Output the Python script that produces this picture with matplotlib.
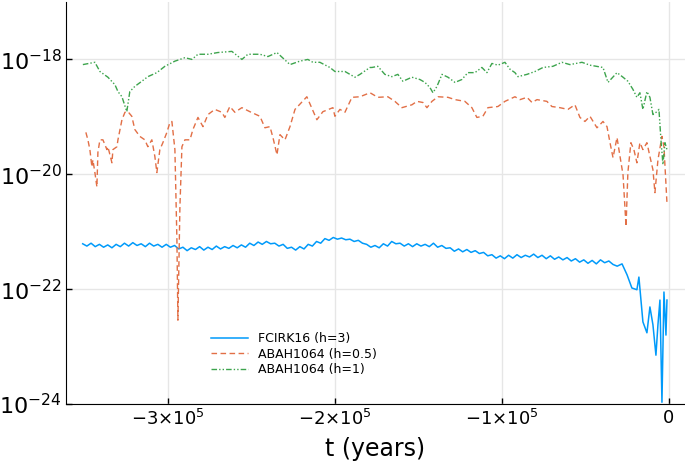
import numpy as np
import matplotlib
matplotlib.use("Agg")
import matplotlib.pyplot as plt

# ==============
# data (log10 of the plotted quantity, time in kyr)
# ==============
# FCIRK16 (h=3) - evenly sampled body, then the noisy tail near t=0
blue_t_body = np.arange(-351, -30, 2.5)
blue_log_body = [
    -21.21, -21.25, -21.20, -21.26, -21.22, -21.27, -21.23, -21.28, -21.22, -21.26,
    -21.20, -21.25, -21.19, -21.24, -21.21, -21.26, -21.20, -21.25, -21.22, -21.27,
    -21.22, -21.27, -21.24, -21.30, -21.27, -21.33, -21.28, -21.31, -21.26, -21.32,
    -21.27, -21.31, -21.25, -21.30, -21.26, -21.29, -21.24, -21.28, -21.23, -21.27,
    -21.20, -21.24, -21.18, -21.22, -21.17, -21.21, -21.20, -21.25, -21.22, -21.29,
    -21.27, -21.32, -21.26, -21.30, -21.22, -21.25, -21.17, -21.20, -21.12, -21.15,
    -21.10, -21.13, -21.11, -21.14, -21.13, -21.17, -21.15, -21.20, -21.22, -21.27,
    -21.24, -21.28, -21.21, -21.25, -21.17, -21.21, -21.20, -21.25, -21.21, -21.26,
    -21.21, -21.25, -21.22, -21.26, -21.20, -21.27, -21.24, -21.29, -21.28, -21.34,
    -21.30, -21.35, -21.31, -21.36, -21.33, -21.38, -21.36, -21.42, -21.40, -21.46,
    -21.42, -21.47, -21.41, -21.46, -21.40, -21.45, -21.41, -21.44, -21.39, -21.45,
    -21.41, -21.47, -21.42, -21.48, -21.44, -21.49, -21.45, -21.51, -21.47, -21.53,
    -21.49, -21.55, -21.50, -21.56, -21.49, -21.54, -21.51, -21.57, -21.60,
]
blue_t_tail = [-28.1, -25.1, -22.2, -19.2, -18.0, -15.6, -13.2, -11.4, -9.6,
               -7.8, -6.6, -5.4, -4.2, -3.0, -1.8, -1.2]
blue_log_tail = [-21.56, -21.75, -21.98, -22.01, -21.79, -22.57, -22.76, -22.31,
                 -22.62, -23.15, -22.62, -22.19, -23.97, -22.05, -22.80, -22.19]

# ABAH1064 (h=0.5)
orange_t = [
    -349.1, -347.9, -346.7, -345.5, -344.9, -343.7, -342.5, -341.9, -340.7, -338.9,
    -336.5, -335.9, -333.5, -332.9, -330.5, -329.9, -327.5, -325.7, -323.9, -321.6,
    -319.8, -316.8, -313.8, -312.0, -309.6, -307.8, -306.6, -304.8, -303.0, -300.6,
    -298.8, -297.6, -295.8, -294.6, -294.0, -292.8, -291.6, -289.8, -286.8, -285.0,
    -282.0, -279.0, -276.0, -271.9, -267.7, -265.9, -262.9, -259.9, -255.7, -250.9,
    -244.9, -241.9, -238.9, -237.1, -234.7, -232.9, -229.9, -226.9, -223.9, -216.8,
    -210.8, -207.2, -201.2, -200.0, -197.0, -194.0, -189.8, -185.0, -179.0, -174.3,
    -168.3, -164.1, -159.9, -153.9, -150.9, -147.3, -144.9, -141.9, -138.3, -132.3,
    -128.1, -122.2, -118.0, -115.0, -111.4, -108.4, -102.4, -98.2, -92.2, -89.2,
    -85.0, -82.0, -79.0, -73.1, -70.1, -65.3, -60.5, -56.3, -53.3, -50.3,
    -47.3, -43.1, -39.5, -37.1, -35.3, -33.5, -31.1, -29.3, -27.5, -25.7,
    -24.6, -22.8, -21.0, -19.2, -17.4, -15.6, -13.2, -11.4, -9.6, -8.4,
    -6.6, -4.2, -3.0, -1.2,
]
orange_log = [
    -19.27, -19.40, -19.57, -19.87, -19.75, -19.97, -20.22, -19.62, -19.40, -19.40,
    -19.57, -19.52, -19.80, -19.57, -19.52, -19.40, -19.05, -18.92, -18.91, -18.99,
    -19.22, -19.34, -19.40, -19.52, -19.40, -19.69, -19.97, -19.57, -19.45, -19.27,
    -19.10, -19.08, -19.57, -21.14, -22.54, -20.57, -19.52, -19.40, -19.40, -19.22,
    -19.01, -19.17, -18.96, -18.87, -18.92, -19.01, -18.82, -18.92, -18.84, -18.91,
    -18.99, -19.19, -19.17, -19.36, -19.66, -19.31, -19.40, -19.17, -18.87, -18.65,
    -19.05, -18.91, -18.84, -18.99, -18.87, -18.92, -18.66, -18.65, -18.58, -18.66,
    -18.65, -18.73, -18.84, -18.79, -18.73, -18.75, -18.84, -18.73, -18.65, -18.66,
    -18.70, -18.73, -18.84, -19.01, -18.99, -18.84, -18.82, -18.73, -18.65, -18.70,
    -18.66, -18.75, -18.70, -18.73, -18.82, -18.84, -18.87, -18.79, -19.01, -19.08,
    -18.99, -19.19, -19.08, -19.17, -19.45, -19.71, -19.36, -19.69, -20.01, -20.91,
    -19.97, -19.45, -19.57, -19.80, -19.45, -19.57, -19.45, -19.69, -19.92, -20.32,
    -19.75, -19.34, -19.52, -20.50,
]

# ABAH1064 (h=1)
green_t = [
    -350.9, -343.7, -340.7, -335.9, -331.7, -329.9, -327.5, -324.6, -322.8, -319.8,
    -315.6, -312.0, -306.6, -301.8, -295.8, -289.8, -285.6, -282.0, -276.0, -270.1,
    -261.7, -255.7, -252.1, -244.9, -240.1, -234.7, -226.9, -221.0, -216.2, -213.2,
    -209.0, -203.0, -200.0, -194.0, -188.0, -185.0, -179.0, -177.8, -174.3, -170.1,
    -165.9, -162.3, -159.3, -153.9, -149.1, -146.1, -143.1, -141.3, -138.9, -135.9,
    -132.3, -128.1, -124.0, -120.4, -116.2, -112.0, -109.0, -106.0, -102.4, -98.2,
    -95.2, -92.2, -90.4, -85.0, -80.2, -75.4, -69.5, -64.1, -59.3, -52.1,
    -47.3, -39.5, -36.5, -31.1, -27.5, -24.6, -21.6, -19.2, -17.4, -15.6,
    -13.2, -11.4, -9.6, -7.2, -6.0, -4.8, -3.6, -2.4, -1.2,
]
green_log = [
    -18.09, -18.05, -18.21, -18.31, -18.44, -18.56, -18.65, -18.91, -18.56, -18.47,
    -18.38, -18.30, -18.23, -18.12, -18.03, -17.97, -18.00, -17.91, -17.91, -17.88,
    -17.86, -18.00, -17.91, -17.91, -17.95, -17.88, -18.09, -18.03, -18.00, -18.05,
    -18.05, -18.14, -18.21, -18.21, -18.31, -18.26, -18.14, -18.14, -18.12, -18.26,
    -18.30, -18.26, -18.38, -18.31, -18.35, -18.40, -18.49, -18.58, -18.47, -18.26,
    -18.31, -18.40, -18.35, -18.23, -18.23, -18.14, -18.23, -18.07, -18.10, -18.05,
    -18.17, -18.23, -18.30, -18.26, -18.21, -18.14, -18.12, -18.05, -18.09, -18.05,
    -18.10, -18.14, -18.40, -18.23, -18.31, -18.38, -18.52, -18.66, -18.58, -18.87,
    -18.56, -18.66, -18.96, -18.91, -18.87, -19.40, -19.83, -19.45, -19.57,
]

labels = ["FCIRK16 (h=3)", "ABAH1064 (h=0.5)", "ABAH1064 (h=1)"]
xticks = [-3e5, -2e5, -1e5, 0]
xtick_labels = [r"$-3{\times}10^{5}$", r"$-2{\times}10^{5}$", r"$-1{\times}10^{5}$", "0"]
yticks = [1e-24, 1e-22, 1e-20, 1e-18]
ytick_labels = [r"$10^{-24}$", r"$10^{-22}$", r"$10^{-20}$", r"$10^{-18}$"]

# ==============
# plot
# ==============
plt.rcParams["mathtext.fontset"] = "dejavusans"

blue_t = np.concatenate([blue_t_body, blue_t_tail]) * 1e3
blue_y = 10.0 ** np.array(blue_log_body + blue_log_tail)

fig = plt.figure(figsize=(6.85, 4.74), dpi=100)
ax = fig.add_axes([66 / 685, 70 / 474, 619 / 685, 402 / 474])

ax.plot(blue_t, blue_y, color="#009AFA", lw=1.1, label=labels[0])
ax.plot(np.array(orange_t) * 1e3, 10.0 ** np.array(orange_log), color="#E26F46",
        lw=1.0, ls=(0, (4, 2.5)), label=labels[1])
ax.plot(np.array(green_t) * 1e3, 10.0 ** np.array(green_log), color="#3DA44D",
        lw=1.0, ls=(0, (4, 1.5, 1, 1.5, 1, 1.5)), label=labels[2])

ax.set_yscale("log")
ax.set_xlim(-361000, 9600)
ax.set_ylim(1e-24, 1e-17)

ax.set_xticks(xticks)
ax.set_xticklabels(xtick_labels, fontsize=13)
ax.set_yticks(yticks)
ax.set_yticklabels(ytick_labels, fontsize=16)
ax.yaxis.set_minor_locator(matplotlib.ticker.NullLocator())
ax.tick_params(direction="in", length=4, width=1, color="black")
ax.tick_params(axis="y", pad=3)

ax.grid(True, color="#e6e6e6", lw=1.0)
ax.set_axisbelow(True)
for s in ["top", "right"]:
    ax.spines[s].set_visible(False)
ax.spines["left"].set_color("black")
ax.spines["bottom"].set_color("black")

ax.set_xlabel("t (years)", fontsize=17, labelpad=6)

ax.legend(loc="upper left", bbox_to_anchor=(0.22, 0.2), frameon=False,
          fontsize=9, handlelength=3.0, labelspacing=0.2, borderpad=0.2)

fig.savefig("out.png", dpi=100)
